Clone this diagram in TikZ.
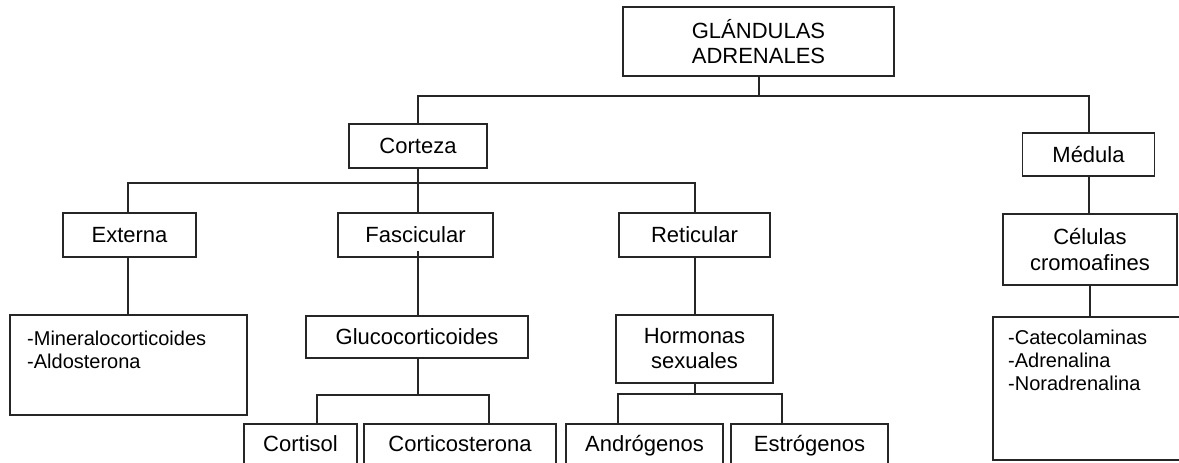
\documentclass[tikz,border=0pt]{standalone}
\usepackage{fontspec}
\setmainfont{Liberation Sans}
\begin{document}
\begin{tikzpicture}[x=1pt,y=-1pt,
  conn/.style={draw=black!85, line width=1.5pt},
  box/.style={draw=black!85, line width=1.5pt, align=center, inner sep=0pt,
    font=\fontsize{22}{25}\selectfont},
  cutbox/.style={box, anchor=north, text height=16pt, text depth=40pt, inner ysep=12pt},
  lsttext/.style={font=\fontsize{20}{23}\selectfont, align=left, anchor=north west, inner sep=0pt}]
\clip (0,0) rectangle (1179,463);
\useasboundingbox (0,0) rectangle (1179,463);
% level 0
\node[box, minimum width=271pt, minimum height=69pt] (gland) at (758.5,41.5) {GLÁNDULAS\\ADRENALES};
% level 1
\node[box, minimum width=138pt, minimum height=44pt] (cort) at (418,146) {Corteza};
\node[box, minimum width=132pt, minimum height=43pt] (med) at (1088.5,154.5) {Médula};
% level 2
\node[box, minimum width=133pt, minimum height=44pt] (ext) at (129.5,235) {Externa};
\node[box, minimum width=155pt, minimum height=44pt] (fasc) at (415.5,235) {Fascicular};
\node[box, minimum width=151pt, minimum height=44pt] (ret) at (694.5,235) {Reticular};
\node[box, minimum width=174pt, minimum height=71pt] (cel) at (1090,249.5) {Células\\[1pt]cromoafines};
% level 3
\node[box, minimum width=237pt, minimum height=100pt] (lst1) at (128.5,365) {};
\node[lsttext] (lst1t) at (27,331) {-Mineralocorticoides\\-Aldosterona};
\node[box, minimum width=222pt, minimum height=42pt] (gluc) at (417,337) {Glucocorticoides};
\node[box, minimum width=157pt, minimum height=68pt] (horm) at (694.5,349) {Hormonas\\sexuales};
\node[box, anchor=north west, minimum width=200pt, minimum height=143pt] (lst2) at (992,316) {};
\node[lsttext] (lst2t) at (1008,330) {-Catecolaminas\\-Adrenalina\\-Noradrenalina};
% level 4
\node[cutbox, minimum width=113pt] (cortisol) at (300.5,423) {Cortisol};
\node[cutbox, minimum width=192pt] (corticost) at (460,423) {Corticosterona};
\node[cutbox, minimum width=157pt] (andro) at (644.5,423) {Andrógenos};
\node[cutbox, minimum width=157pt] (estro) at (809.5,423) {Estrógenos};
% connectors
\coordinate (j1) at (759,96);
\coordinate (j2) at (418,183);
\coordinate (j3) at (418,395);
\coordinate (j4) at (695,394);
\draw[conn] (gland.south -| j1) -- (j1);
\draw[conn] (cort.north -| j2) |- (j1) -| (med.north -| 1089,0);
\draw[conn] (cort.south -| j2) -- (j2);
\draw[conn] (ext.north -| 128,0) |- (j2) -| (ret.north -| 695,0);
\draw[conn] (j2) -- (fasc.north -| j2);
\draw[conn] (ext.south -| 128,0) -- (lst1.north -| 128,0);
\draw[conn] ([yshift=7pt]fasc.south -| j2) -- (gluc.north -| j2);
\draw[conn] (gluc.south -| j3) -- (j3);
\draw[conn] (cortisol.north -| 317,0) |- (j3) -| (corticost.north -| 489,0);
\draw[conn] (ret.south -| j4) -- (horm.north -| j4);
\draw[conn] (horm.south -| j4) -- (j4);
\draw[conn] (andro.north -| 618,0) |- (j4) -| (estro.north -| 782,0);
\draw[conn] (med.south -| 1089,0) -- (cel.north -| 1089,0);
\draw[conn] (cel.south -| 1090,0) -- (lst2.north -| 1090,0);
\end{tikzpicture}
\end{document}
